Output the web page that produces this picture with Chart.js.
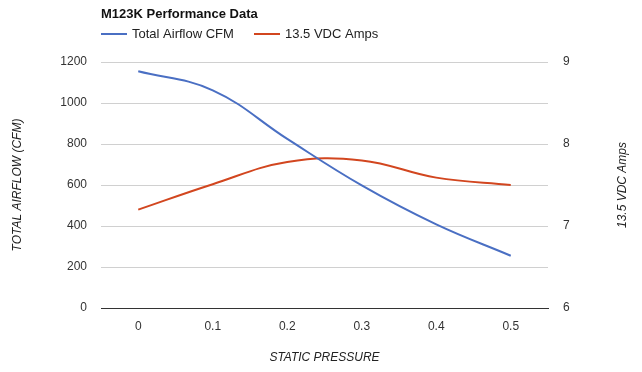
<!DOCTYPE html>
<html><head><meta charset="utf-8">
<script src="https://cdn.jsdelivr.net/npm/chart.js@4"></script>
<style>html,body{margin:0;padding:0;background:#fff}#wrap{width:642px;height:372px}</style>
</head><body><div id="wrap"><canvas id="c" width="642" height="372"></canvas></div>
<script>
const chartTitle = 'M123K Performance Data';
const categories = ['0', '0.1', '0.2', '0.3', '0.4', '0.5'];
const seriesNames = ['Total Airflow CFM', '13.5 VDC Amps'];
const airflow = [1155, 1062, 825, 598, 408, 255];
const amps = [7.2, 7.51, 7.78, 7.8, 7.59, 7.5];
const xTitle = 'STATIC PRESSURE';
const yTitle = 'TOTAL AIRFLOW (CFM)';
const y1Title = '13.5 VDC Amps';

const FAMILY = '"Liberation Sans", Arial, sans-serif';
const BLUE = '#4a6fc3';
const RED = '#d2461f';

const headerPlugin = {
  id: 'header',
  afterDraw(chart) {
    const ctx = chart.ctx;
    const left = chart.chartArea.left;
    ctx.save();
    ctx.fillStyle = '#111';
    ctx.font = 'bold 13px ' + FAMILY;
    ctx.textAlign = 'left';
    ctx.textBaseline = 'middle';
    ctx.fillText(chartTitle, left, 14);
    // legend
    const itemX = [left, 254];
    chart.data.datasets.forEach((ds, i) => {
      const x = itemX[i];
      ctx.strokeStyle = ds.borderColor;
      ctx.lineWidth = 2;
      ctx.beginPath();
      ctx.moveTo(x, 34);
      ctx.lineTo(x + 26, 34);
      ctx.stroke();
      ctx.fillStyle = '#222';
      ctx.font = '13px ' + FAMILY;
      ctx.fillText(ds.label, x + 31, 34);
    });
    // right axis title (reads bottom-to-top)
    ctx.translate(623, 185);
    ctx.rotate(-Math.PI / 2);
    ctx.textAlign = 'center';
    ctx.font = 'italic 12px ' + FAMILY;
    ctx.fillStyle = '#222';
    ctx.fillText(y1Title, 0, 0);
    ctx.restore();
  }
};

const tickFont = { family: FAMILY, size: 12 };
const titleFont = { family: FAMILY, size: 12, style: 'italic' };

new Chart(document.getElementById('c'), {
  type: 'line',
  data: {
    labels: categories,
    datasets: [
      { label: seriesNames[0], data: airflow, yAxisID: 'y', borderColor: BLUE, backgroundColor: BLUE },
      { label: seriesNames[1], data: amps, yAxisID: 'y1', borderColor: RED, backgroundColor: RED }
    ]
  },
  options: {
    responsive: false,
    animation: false,
    devicePixelRatio: 1,
    layout: { padding: { top: 62, left: 0, right: 0, bottom: 0 } },
    plugins: { legend: { display: false }, title: { display: false }, tooltip: { enabled: false } },
    elements: { point: { radius: 0 }, line: { tension: 0.4, borderWidth: 2 } },
    scales: {
      x: {
        offset: true,
        grid: { display: false },
        border: { display: true, color: '#333', width: 1 },
        ticks: { font: tickFont, color: '#333', padding: 3 },
        title: { display: true, text: xTitle, font: titleFont, color: '#222', padding: { top: 0, bottom: 7 } },
        afterFit(s) { s.height = 64; }
      },
      y: {
        position: 'left',
        min: 0, max: 1200,
        ticks: { stepSize: 200, font: tickFont, color: '#333', padding: 14, callback: (v) => String(v) },
        grid: { drawTicks: false, color: (c) => (c.tick && c.tick.value === 0) ? '#333' : '#d0d0d0' },
        border: { display: false },
        title: { display: true, text: yTitle, font: titleFont, color: '#222', padding: { top: 10, bottom: 0 } },
        afterFit(s) { s.width = 101; }
      },
      y1: {
        position: 'right',
        min: 6, max: 9,
        ticks: { stepSize: 1, font: tickFont, color: '#333', padding: 15, callback: (v) => String(v) },
        grid: { display: false, drawTicks: false },
        border: { display: false },
        afterFit(s) { s.width = 94; }
      }
    }
  },
  plugins: [headerPlugin]
});
</script>
</body></html>
